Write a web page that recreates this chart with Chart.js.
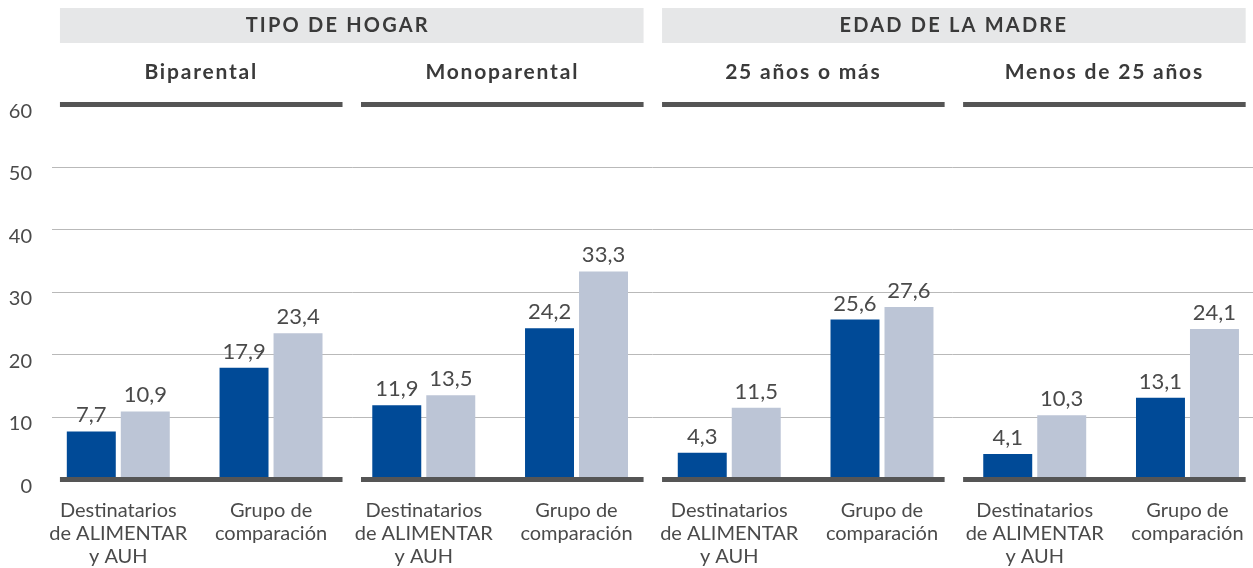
<!DOCTYPE html>
<html>
<head>
<meta charset="utf-8">
<script src="https://cdn.jsdelivr.net/npm/chart.js@4.4.0/dist/chart.umd.min.js"></script>
<style>
    html, body { margin: 0; padding: 0; background: #fff; }
    #wrap { width: 1253px; height: 568px; position: relative; }
</style>
</head>
<body>
<div id="wrap"><canvas id="chart"></canvas></div>
<script>
// Chart data
const categoryLabels = [
    ['Destinatarios', 'de ALIMENTAR', 'y AUH'], ['Grupo de', 'comparación'],
    ['Destinatarios', 'de ALIMENTAR', 'y AUH'], ['Grupo de', 'comparación'],
    ['Destinatarios', 'de ALIMENTAR', 'y AUH'], ['Grupo de', 'comparación'],
    ['Destinatarios', 'de ALIMENTAR', 'y AUH'], ['Grupo de', 'comparación']
];
const panelTitles = ['Biparental', 'Monoparental', '25 años o más', 'Menos de 25 años'];
const sectionTitles = ['TIPO DE HOGAR', 'EDAD DE LA MADRE'];
const darkValues = [7.7, 17.9, 11.9, 24.2, 4.3, 25.6, 4.1, 13.1];
const lightValues = [10.9, 23.4, 13.5, 33.3, 11.5, 27.6, 10.3, 24.1];
const yTicks = [0, 10, 20, 30, 40, 50, 60];

const FONT = 'Lato, "Open Sans", sans-serif';
const TEXT = '#4a4a4a';

function fmt(v) {
    return v.toFixed(1).replace('.', ',');
}

// panel k spans these x values (bars drift slightly against the panel rules)
function panelRange(k) {
    const left = -0.382 + 1.971 * k;
    return [left, left + 1.85];
}

const panelPlugin = {
    id: 'panels',
    afterDatasetsDraw(chart) {
        const ctx = chart.ctx;
        const x = chart.scales.x, y = chart.scales.y;
        ctx.save();

        // dark rules at top (60) and base (0) of each panel
        ctx.fillStyle = '#555555';
        for (let k = 0; k < panelTitles.length; k++) {
            const [a, b] = panelRange(k);
            const x1 = x.getPixelForValue(a), x2 = x.getPixelForValue(b);
            ctx.fillRect(x1, y.getPixelForValue(60) - 2.5, x2 - x1, 5);
            ctx.fillRect(x1, y.getPixelForValue(0) - 2.5, x2 - x1, 5);
        }

        // value labels above bars
        ctx.font = '22px ' + FONT;
        ctx.fillStyle = TEXT;
        ctx.textAlign = 'center';
        ctx.textBaseline = 'alphabetic';
        chart.data.datasets.forEach((ds, di) => {
            chart.getDatasetMeta(di).data.forEach((bar, i) => {
                ctx.fillText(fmt(ds.data[i].y), bar.x, bar.y - 9);
            });
        });
        ctx.restore();
    },
    afterDraw(chart) {
        const ctx = chart.ctx;
        const x = chart.scales.x;
        ctx.save();

        // section bands
        sectionTitles.forEach((title, s) => {
            const x1 = x.getPixelForValue(panelRange(2 * s)[0]);
            const x2 = x.getPixelForValue(panelRange(2 * s + 1)[1]);
            ctx.fillStyle = '#e6e7e8';
            ctx.fillRect(x1, 8, x2 - x1, 35);
            ctx.fillStyle = '#3a3a3a';
            ctx.font = 'bold 20px ' + FONT;
            ctx.letterSpacing = '2.2px';
            ctx.textAlign = 'center';
            ctx.textBaseline = 'middle';
            const shift = s === 0 ? -14 : 0;
            ctx.fillText(title, (x1 + x2) / 2 + shift, 26);
        });

        // panel titles
        ctx.letterSpacing = '1.8px';
        ctx.font = 'bold 21px ' + FONT;
        ctx.fillStyle = '#3a3a3a';
        panelTitles.forEach((title, k) => {
            const [a, b] = panelRange(k);
            const cx = (x.getPixelForValue(a) + x.getPixelForValue(b)) / 2;
            ctx.fillText(title, cx, 72);
        });
        ctx.restore();
    }
};

const ctx = document.getElementById('chart').getContext('2d');
new Chart(ctx, {
    type: 'bar',
    data: {
        datasets: [{
            label: 'Destinatarios',
            data: darkValues.map((v, i) => ({ x: i, y: v })),
            backgroundColor: '#004a97'
        }, {
            label: 'Comparación',
            data: lightValues.map((v, i) => ({ x: i, y: v })),
            backgroundColor: '#bcc5d6'
        }]
    },
    options: {
        responsive: true,
        maintainAspectRatio: false,
        animation: false,
        categoryPercentage: 0.707,
        barPercentage: 0.907,
        layout: { padding: { top: 104.5, left: 0, right: 0, bottom: 0 } },
        plugins: {
            legend: { display: false },
            tooltip: { enabled: false }
        },
        scales: {
            x: {
                type: 'linear',
                offset: false,
                min: -0.434,
                max: 7.429,
                afterBuildTicks: scale => {
                    scale.ticks = categoryLabels.map((_, i) => ({ value: i }));
                },
                afterFit: scale => {
                    scale.height = 88.5;
                    scale.paddingLeft = 0;
                    scale.paddingRight = 0;
                },
                grid: { display: false, drawTicks: false },
                border: { display: false },
                ticks: {
                    autoSkip: false,
                    maxRotation: 0,
                    padding: 19,
                    color: TEXT,
                    font: { family: FONT, size: 20, lineHeight: 1.17 },
                    callback: (v, i) => categoryLabels[i]
                }
            },
            y: {
                min: 0,
                max: 60,
                afterBuildTicks: scale => {
                    scale.ticks = yTicks.map(v => ({ value: v }));
                },
                afterFit: scale => { scale.width = 52; },
                border: { display: false },
                grid: {
                    drawTicks: false,
                    color: c => (c.tick.value === 0 || c.tick.value === 60) ? 'rgba(0,0,0,0)' : '#b9b9b9',
                    lineWidth: 1
                },
                ticks: {
                    padding: 20,
                    labelOffset: 7,
                    color: TEXT,
                    font: { family: FONT, size: 20 }
                }
            }
        }
    },
    plugins: [panelPlugin]
});
</script>
</body>
</html>
